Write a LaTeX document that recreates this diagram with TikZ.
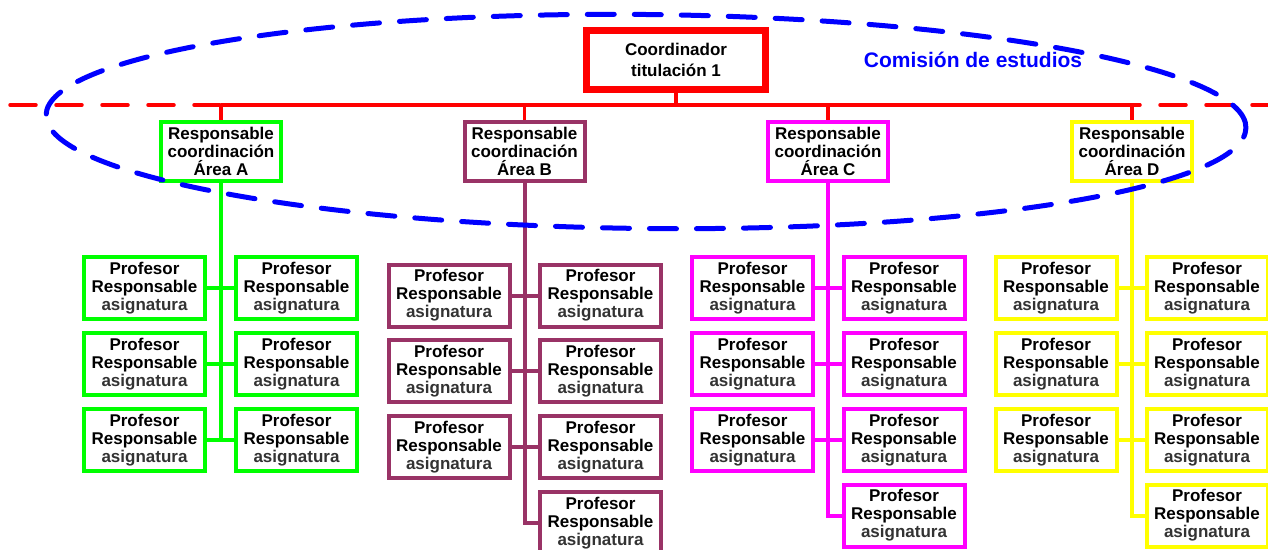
\documentclass[tikz,border=0pt]{standalone}
\usepackage{fontspec}
\setmainfont{Liberation Sans}
\definecolor{cgreen}{RGB}{0,255,0}
\definecolor{cplum}{RGB}{153,51,102}
\definecolor{cmag}{RGB}{255,0,255}
\definecolor{cyel}{RGB}{255,255,0}
\definecolor{cred}{RGB}{255,0,0}
\definecolor{cblue}{RGB}{0,0,255}
\newcommand\proftext{Profesor\\Responsable\\{\color{black!80}asignatura}}
\begin{document}
\begin{tikzpicture}[x=1pt,y=-1pt,
  txt/.style={font=\fontsize{17}{18}\selectfont\bfseries, align=center},
  box/.style={txt, draw, line width=4pt, fill=white, minimum width=121pt, minimum height=62pt, inner sep=0pt},
  prof/.style={box, draw=#1},
  area/.style={box, draw=#1, minimum height=59pt, minimum width=120pt},
  link/.style={line width=4pt, draw=#1},
  redline/.style={line width=3.5pt, draw=cred},
]
\useasboundingbox[fill=white] (0,0) rectangle (1268,549);

% red dashed base line
\draw[redline, line cap=round, dash pattern=on 26pt off 20pt] (10,105) -- (1268,105);

% coordinator
\node[box, draw=cred, line width=7pt, minimum width=179pt, minimum height=59pt,
      font=\fontsize{17}{21}\selectfont\bfseries] (coord) at (676,60) {Coordinador\\titulación 1};

% area boxes
\node[area=cgreen] (aA) at (221,151.5) {Responsable\\coordinación\\Área A};
\node[area=cplum]  (aB) at (524.5,151.5) {Responsable\\coordinación\\Área B};
\node[area=cmag]   (aC) at (828,151.5) {Responsable\\coordinación\\Área C};
\node[area=cyel]   (aD) at (1132,151.5) {Responsable\\coordinación\\Área D};

% red connectors
\coordinate (bus) at (676,105);
\draw[redline] (aA.north |- bus) -- (aD.north |- bus);
\draw[redline] (coord.south) -- (bus);
\foreach \a in {aA,aB,aC,aD}{
  \draw[redline] (\a.north |- bus) -- (\a.north);
}

% Area A
\foreach \i/\y in {1/288,2/364,3/440}{
  \node[prof=cgreen] (A-L\i) at (144.5,\y) {\proftext};
  \node[prof=cgreen] (A-R\i) at (296.5,\y) {\proftext};
  \draw[link=cgreen] (A-L\i.east) -- (A-R\i.west);
}
\draw[link=cgreen] (aA.south) -- (aA.south |- A-L3.east);

% Area B
\foreach \i/\y in {1/295.5,2/371,3/447}{
  \node[prof=cplum] (B-L\i) at (449,\y) {\proftext};
  \node[prof=cplum] (B-R\i) at (600.5,\y) {\proftext};
  \draw[link=cplum] (B-L\i.east) -- (B-R\i.west);
}
\node[prof=cplum] (B-R4) at (600.5,523) {\proftext};
\draw[link=cplum] (aB.south) -- (aB.south |- B-R4.west) -- (B-R4.west);

% Area C
\foreach \i/\y in {1/288,2/364,3/440}{
  \node[prof=cmag] (C-L\i) at (752.5,\y) {\proftext};
  \node[prof=cmag] (C-R\i) at (904,\y) {\proftext};
  \draw[link=cmag] (C-L\i.east) -- (C-R\i.west);
}
\node[prof=cmag] (C-R4) at (904,515.5) {\proftext};
\draw[link=cmag] (aC.south) -- (aC.south |- C-R4.west) -- (C-R4.west);

% Area D
\foreach \i/\y in {1/288,2/364,3/440}{
  \node[prof=cyel] (D-L\i) at (1056,\y) {\proftext};
  \node[prof=cyel] (D-R\i) at (1207,\y) {\proftext};
  \draw[link=cyel] (D-L\i.east) -- (D-R\i.west);
}
\node[prof=cyel] (D-R4) at (1207,515.5) {\proftext};
\draw[link=cyel] (aD.south) -- (aD.south |- D-R4.west) -- (D-R4.west);

% commission
\node[font=\fontsize{21}{24}\selectfont\bfseries, text=cblue] (com) at (973,60) {Comisión de estudios};
\draw[cblue, line width=5pt, line cap=round, dash pattern=on 27pt off 20pt,
      rotate around={-0.6:(646,121.5)}] (646,121.5) ellipse [x radius=600pt, y radius=107pt];
\end{tikzpicture}
\end{document}
